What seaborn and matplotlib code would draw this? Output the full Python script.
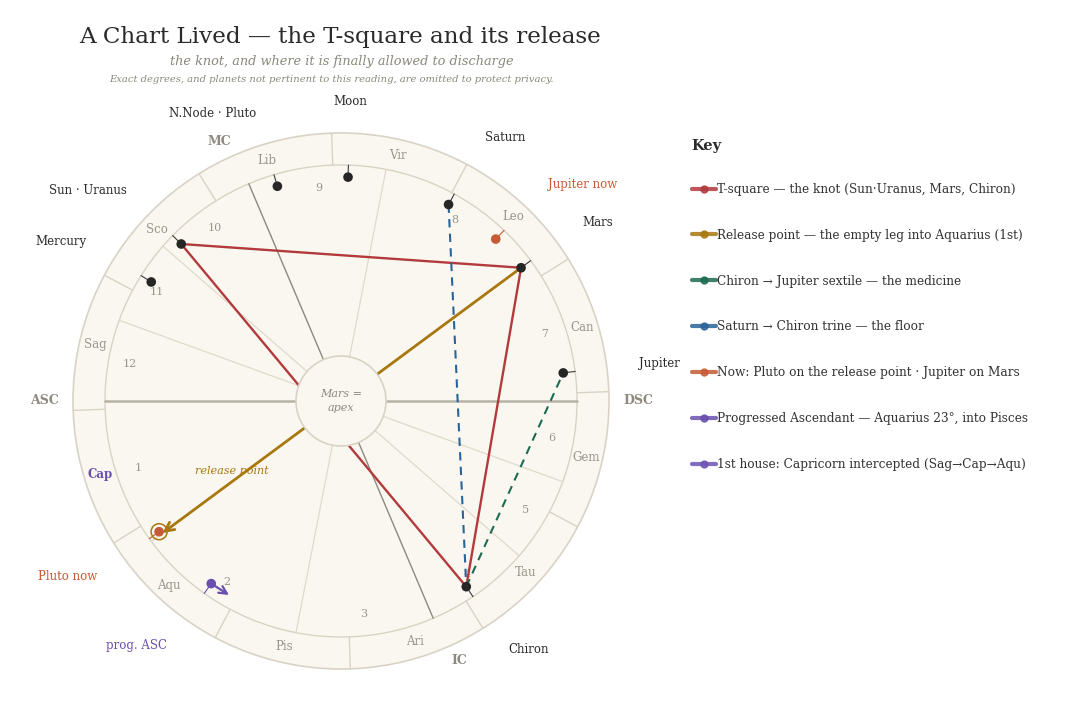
import numpy as np
import pandas as pd
import seaborn as sns
import matplotlib.pyplot as plt
from matplotlib.lines import Line2D
from matplotlib.patches import Circle

# ecliptic longitudes (degrees)
asc_lon = 268.0
house_cusps = [268.0, 304.5, 347.0, 21.0, 47.0, 68.0, 88.0, 124.5, 167.0, 201.0, 227.0, 248.0]
house_numbers = ['1', '2', '3', '4', '5', '6', '7', '8', '9', '10', '11', '12']
sign_names = ['Ari', 'Tau', 'Gem', 'Can', 'Leo', 'Vir', 'Lib', 'Sco', 'Sag', 'Cap', 'Aqu', 'Pis']
angle_names = ['ASC', 'MC', 'DSC', 'IC']
angle_lon = [268.0, 201.0, 88.0, 21.0]

planet_names = ['Sun · Uranus', 'Mercury', 'N.Node · Pluto', 'Moon', 'Saturn', 'Mars', 'Jupiter', 'Chiron']
planet_lon = [223.5, 235.9, 194.5, 176.2, 149.3, 124.5, 95.2, 32.0]

transit_names = ['Jupiter now', 'Pluto now']
transit_lon = [134.3, 303.7]
prog_asc_lon = 322.6
prog_asc_to = 328.0
release_lon = 304.5

# aspect lines: (from, to, kind)
aspects = [
    ('Sun · Uranus', 'Mars', 'tsq'),
    ('Sun · Uranus', 'Chiron', 'tsq'),
    ('Mars', 'Chiron', 'tsq'),
    ('Saturn', 'Chiron', 'trine'),
    ('Chiron', 'Jupiter', 'sextile'),
]

legend_labels = [
    'T-square — the knot (Sun·Uranus, Mars, Chiron)',
    'Release point — the empty leg into Aquarius (1st)',
    'Chiron → Jupiter sextile — the medicine',
    'Saturn → Chiron trine — the floor',
    'Now: Pluto on the release point · Jupiter on Mars',
    'Progressed Ascendant — Aquarius 23°, into Pisces',
    '1st house: Capricorn intercepted (Sag→Cap→Aqu)',
]
legend_colors = ['#b23a3c', '#a8780f', '#1d6b52', '#2a6398', '#c65a35', '#6a50ad', '#6d54b3']

RED, GOLD, GREEN, BLUE, ORANGE, PURPLE = legend_colors[:6]
INK = '#2b2b2b'
MUTED = '#9a968c'
CREAM = '#faf7f0'
EDGE = '#d9d3c6'

R_OUT, R_IN, R_HUB = 268, 236, 45
R_PLANET, R_LABEL, R_SIGN, R_HOUSE, R_ANGLE = 224, 300, 252, 214, 282


def theta(lon):
    return np.deg2rad(180 + (lon - asc_lon))


def xy(lon, r):
    t = theta(lon)
    return r * np.cos(t), r * np.sin(t)


def side_align(lon):
    c = np.cos(theta(lon))
    if c > 0.1:
        return 'left'
    if c < -0.1:
        return 'right'
    return 'center'


sns.set_theme(style='white')
plt.rcParams['font.family'] = ['DejaVu Serif', 'DejaVu Sans']

fig = plt.figure(figsize=(10.81, 7.11), dpi=100)
ax = fig.add_axes([0, 0, 1, 1])
cx, cy = 341, 401
ax.set_xlim(-cx, 1081 - cx)
ax.set_ylim(-(711 - cy), cy)
ax.set_aspect('equal')
ax.axis('off')

# wheel
ax.add_patch(Circle((0, 0), R_OUT, facecolor=CREAM, edgecolor=EDGE, lw=1.2, zorder=1))
ax.add_patch(Circle((0, 0), R_IN, facecolor='none', edgecolor=EDGE, lw=1.0, zorder=2))

for k, name in enumerate(sign_names):
    x0, y0 = xy(30 * k, R_IN)
    x1, y1 = xy(30 * k, R_OUT)
    ax.plot([x0, x1], [y0, y1], color=EDGE, lw=1.0, zorder=2)
    sx, sy = xy(30 * k + 15, R_SIGN)
    if name == 'Cap':
        ax.text(sx, sy, name, ha='center', va='center', fontsize=8.5, color=PURPLE,
                fontweight='bold', zorder=3)
    else:
        ax.text(sx, sy, name, ha='center', va='center', fontsize=8.5, color=MUTED, zorder=3)

for i, lon in enumerate(house_cusps):
    x0, y0 = xy(lon, R_HUB)
    x1, y1 = xy(lon, R_IN)
    if i in (0, 6):
        ax.plot([x0, x1], [y0, y1], color='#b7b2a7', lw=1.8, zorder=2)
    elif i in (3, 9):
        ax.plot([x0, x1], [y0, y1], color='#8c8980', lw=1.0, zorder=2)
    else:
        ax.plot([x0, x1], [y0, y1], color='#e0dacd', lw=0.9, zorder=2)
    nxt = house_cusps[(i + 1) % 12]
    span = (nxt - lon) % 360
    hx, hy = xy(lon + span / 2, R_HOUSE)
    ax.text(hx, hy, house_numbers[i], ha='center', va='center', fontsize=8, color=MUTED, zorder=3)

for name, lon in zip(angle_names, angle_lon):
    ax2, ay2 = xy(lon, R_ANGLE)
    ax.text(ax2, ay2, name, ha=side_align(lon), va='center', fontsize=9, color='#8e8a7f',
            fontweight='bold', zorder=3)

# aspect lines
pos = {n: xy(l, R_PLANET) for n, l in zip(planet_names, planet_lon)}
styles = {
    'tsq': dict(color=RED, lw=1.7, ls='-'),
    'trine': dict(color=BLUE, lw=1.5, ls=(0, (4, 3))),
    'sextile': dict(color=GREEN, lw=1.5, ls=(0, (4, 3))),
}
for a, b, kind in aspects:
    ax.plot([pos[a][0], pos[b][0]], [pos[a][1], pos[b][1]], zorder=4, **styles[kind])

# release leg: Mars through the centre to the empty point
mx, my = pos['Mars']
rx, ry = xy(release_lon, R_PLANET - 2)
ax.annotate('', xy=(rx, ry), xytext=(mx, my),
            arrowprops=dict(arrowstyle='->', color=GOLD, lw=2.0, shrinkA=0, shrinkB=0,
                            mutation_scale=16), zorder=4)
tx, ty = xy(release_lon - 4, 130)
ax.text(tx, ty, 'release point', ha='center', va='center', fontsize=8, color=GOLD,
        style='italic', zorder=4)

# hub
ax.add_patch(Circle((0, 0), R_HUB, facecolor=CREAM, edgecolor=EDGE, lw=1.2, zorder=5))
ax.text(0, 0, 'Mars =\napex', ha='center', va='center', fontsize=8, color='#8e8a80',
        style='italic', linespacing=1.5, zorder=6)

# natal planets
for name, lon in zip(planet_names, planet_lon):
    x0, y0 = xy(lon, R_PLANET)
    x1, y1 = xy(lon, R_IN)
    ax.plot([x0, x1], [y0, y1], color='#3a3a3a', lw=0.8, zorder=6)
    lx, ly = xy(lon, R_LABEL)
    ax.text(lx, ly, name, ha=side_align(lon), va='center', fontsize=8.5, color=INK, zorder=6)

natal = pd.DataFrame({'x': [pos[n][0] for n in planet_names],
                      'y': [pos[n][1] for n in planet_names]})
sns.scatterplot(data=natal, x='x', y='y', ax=ax, color='#262626', s=48,
                edgecolor='none', zorder=7, legend=False)

# transits
for name, lon in zip(transit_names, transit_lon):
    x0, y0 = xy(lon, R_PLANET)
    x1, y1 = xy(lon, R_IN)
    ax.plot([x0, x1], [y0, y1], color=ORANGE, lw=0.8, zorder=6)
    lx, ly = xy(lon, R_LABEL)
    ax.text(lx, ly, name, ha=side_align(lon), va='center', fontsize=8.5, color=ORANGE, zorder=6)

transits = pd.DataFrame({'x': [xy(l, R_PLANET)[0] for l in transit_lon],
                         'y': [xy(l, R_PLANET)[1] for l in transit_lon]})
sns.scatterplot(data=transits, x='x', y='y', ax=ax, color=ORANGE, s=48,
                edgecolor='none', zorder=7, legend=False)
px, py = xy(transit_lon[1], R_PLANET)
ax.add_patch(Circle((px, py), 8, facecolor='none', edgecolor=GOLD, lw=1.1, zorder=7))

# progressed ascendant
gx, gy = xy(prog_asc_lon, R_PLANET)
ex, ey = xy(prog_asc_to, R_PLANET)
x1, y1 = xy(prog_asc_lon, R_IN)
ax.plot([gx, x1], [gy, y1], color=PURPLE, lw=0.8, zorder=6)
ax.annotate('', xy=(ex, ey), xytext=(gx, gy),
            arrowprops=dict(arrowstyle='->', color=PURPLE, lw=1.6, shrinkA=0, shrinkB=0,
                            mutation_scale=14), zorder=7)
ax.scatter([gx], [gy], color=PURPLE, s=48, edgecolor='none', zorder=8)
lx, ly = xy(prog_asc_lon, R_LABEL)
ax.text(lx, ly, 'prog. ASC', ha=side_align(prog_asc_lon), va='center', fontsize=8.5,
        color=PURPLE, zorder=6)

# titles
fig.text(340 / 1081, 1 - 37 / 711, 'A Chart Lived — the T-square and its release',
         ha='center', va='center', fontsize=16.6, color=INK)
fig.text(342 / 1081, 1 - 61 / 711, 'the knot, and where it is finally allowed to discharge',
         ha='center', va='center', fontsize=9.3, color='#8a887c', style='italic')
fig.text(331 / 1081, 1 - 79 / 711,
         'Exact degrees, and planets not pertinent to this reading, are omitted to protect privacy.',
         ha='center', va='center', fontsize=7.2, color='#8a887c', style='italic')

# key
fig.text(691 / 1081, 1 - 146 / 711, 'Key', ha='left', va='center', fontsize=10.5,
         fontweight='bold', color=INK)
handles = [Line2D([0], [0], color=c, lw=3, alpha=0.85, marker='o', markersize=5)
           for c in legend_colors]
leg = fig.legend(handles, legend_labels, loc='upper left', bbox_to_anchor=(687 / 1081, 1 - 178 / 711),
                 frameon=False, fontsize=8.7,
                 handlelength=2.0, handletextpad=0.1, labelspacing=2.72, borderaxespad=0)
for t in leg.get_texts():
    t.set_color('#333333')

fig.savefig('out.png', dpi=100, facecolor='white')
